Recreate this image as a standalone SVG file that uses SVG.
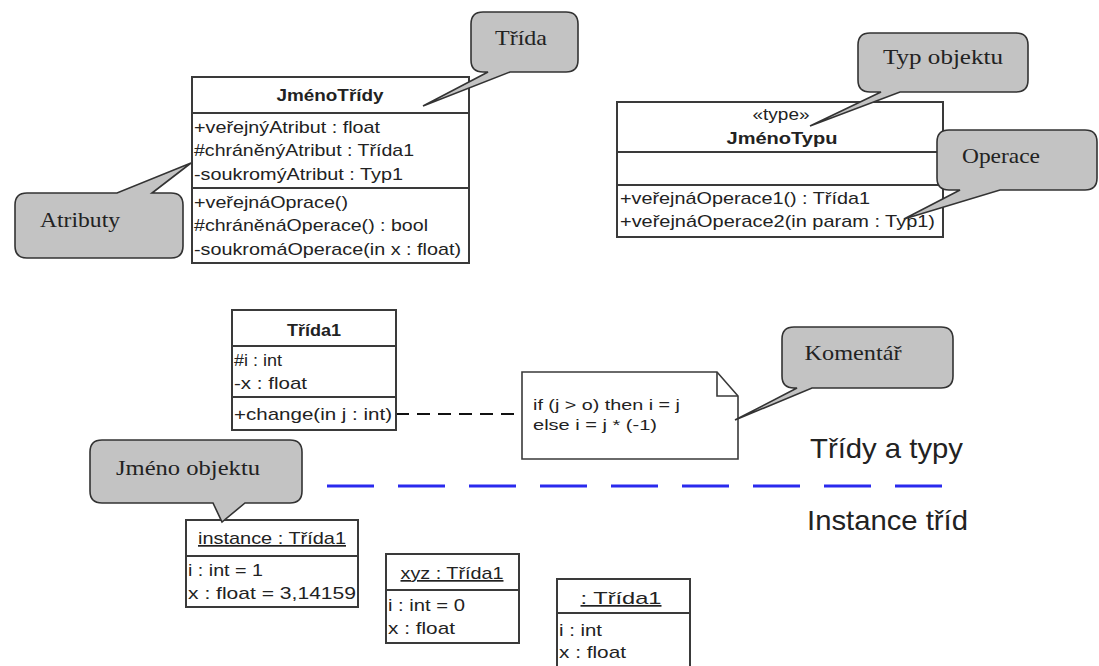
<svg xmlns="http://www.w3.org/2000/svg" width="1099" height="666" viewBox="0 0 1099 666">
<style>
.box{fill:#fff;stroke:#3a3a3a;stroke-width:2}
.div{stroke:#3a3a3a;stroke-width:2}
.t{font-family:"Liberation Sans",Arial,sans-serif;font-size:17px;fill:#222}
.b{font-weight:bold;text-anchor:middle}
.c{text-anchor:middle}
.n{font-family:"Liberation Sans",Arial,sans-serif;font-size:15px;fill:#222}
.big{font-family:"Liberation Sans",Arial,sans-serif;font-size:28px;fill:#222}
.call{fill:#c3c3c3;stroke:#333;stroke-width:1.6}
.ct{font-family:"Liberation Serif","Times New Roman",serif;font-size:21px;fill:#222;text-anchor:middle}
</style>
<rect width="1099" height="666" fill="#fff"/>

<g id="connectors">
<line x1="396" y1="414" x2="522" y2="414" stroke="#111" stroke-width="2" stroke-dasharray="13 8"/>
<line x1="327" y1="486" x2="943" y2="486" stroke="#2a2aee" stroke-width="3" stroke-dasharray="47 24"/>
</g>

<g id="jmenoTridy">
<rect class="box" x="192" y="77" width="277" height="186"/>
<line class="div" x1="192" y1="113" x2="469" y2="113"/>
<line class="div" x1="192" y1="188" x2="469" y2="188"/>
<text class="t b" x="330" y="101" textLength="107" lengthAdjust="spacingAndGlyphs">JménoTřídy</text>
<text class="t" x="194" y="133" textLength="186" lengthAdjust="spacingAndGlyphs">+veřejnýAtribut : float</text>
<text class="t" x="194" y="156" textLength="220" lengthAdjust="spacingAndGlyphs">#chráněnýAtribut : Třída1</text>
<text class="t" x="194" y="180" textLength="209" lengthAdjust="spacingAndGlyphs">-soukromýAtribut : Typ1</text>
<text class="t" x="194" y="208" textLength="154" lengthAdjust="spacingAndGlyphs">+veřejnáOprace()</text>
<text class="t" x="194" y="231" textLength="234" lengthAdjust="spacingAndGlyphs">#chráněnáOperace() : bool</text>
<text class="t" x="194" y="255" textLength="267" lengthAdjust="spacingAndGlyphs">-soukromáOperace(in x : float)</text>
</g>

<g id="jmenoTypu">
<rect class="box" x="617" y="102" width="326" height="135"/>
<line class="div" x1="617" y1="152" x2="943" y2="152"/>
<line class="div" x1="617" y1="185" x2="943" y2="185"/>
<text class="t c" x="781" y="120" font-size="14" textLength="57" lengthAdjust="spacingAndGlyphs">«type»</text>
<text class="t b" x="782" y="144" textLength="111" lengthAdjust="spacingAndGlyphs">JménoTypu</text>
<text class="t" x="620" y="204" textLength="250" lengthAdjust="spacingAndGlyphs">+veřejnáOperace1() : Třída1</text>
<text class="t" x="620" y="227" textLength="315" lengthAdjust="spacingAndGlyphs">+veřejnáOperace2(in param : Typ1)</text>
</g>

<g id="trida1">
<rect class="box" x="232" y="310" width="164" height="120"/>
<line class="div" x1="232" y1="346" x2="396" y2="346"/>
<line class="div" x1="232" y1="397" x2="396" y2="397"/>
<text class="t b" x="314" y="336" textLength="54" lengthAdjust="spacingAndGlyphs">Třída1</text>
<text class="t" x="234" y="366" textLength="48" lengthAdjust="spacingAndGlyphs">#i : int</text>
<text class="t" x="234" y="389" textLength="73" lengthAdjust="spacingAndGlyphs">-x : float</text>
<text class="t" x="234" y="420" textLength="158" lengthAdjust="spacingAndGlyphs">+change(in j : int)</text>
</g>

<g id="note">
<path d="M522,372 H717 L738,396 V459 H522 Z" fill="#fff" stroke="#3a3a3a" stroke-width="1.6"/>
<path d="M717,372 V396 H738" fill="none" stroke="#3a3a3a" stroke-width="1.6"/>
<text class="n" x="533" y="410" textLength="147" lengthAdjust="spacingAndGlyphs">if (j &gt; o) then i = j</text>
<text class="n" x="533" y="430" textLength="124" lengthAdjust="spacingAndGlyphs">else i = j * (-1)</text>
</g>

<g id="instance">
<rect class="box" x="186" y="520" width="172" height="87"/>
<line class="div" x1="186" y1="556" x2="358" y2="556"/>
<text class="t c" x="272" y="544" text-decoration="underline" textLength="148" lengthAdjust="spacingAndGlyphs">instance : Třída1</text>
<text class="t" x="188" y="576" textLength="75" lengthAdjust="spacingAndGlyphs">i : int = 1</text>
<text class="t" x="188" y="599" textLength="168" lengthAdjust="spacingAndGlyphs">x : float = 3,14159</text>
</g>

<g id="xyz">
<rect class="box" x="386" y="554" width="133" height="89"/>
<line class="div" x1="386" y1="590" x2="519" y2="590" stroke-width="3"/>
<text class="t c" x="452" y="579" text-decoration="underline" textLength="103" lengthAdjust="spacingAndGlyphs">xyz : Třída1</text>
<text class="t" x="388" y="611" textLength="77" lengthAdjust="spacingAndGlyphs">i : int = 0</text>
<text class="t" x="388" y="634" textLength="67" lengthAdjust="spacingAndGlyphs">x : float</text>
</g>

<g id="anon">
<rect class="box" x="557" y="579" width="133" height="95"/>
<line class="div" x1="557" y1="613" x2="690" y2="613"/>
<text class="t c" x="621" y="604" text-decoration="underline" textLength="81" lengthAdjust="spacingAndGlyphs"> : Třída1</text>
<text class="t" x="559" y="636" textLength="43" lengthAdjust="spacingAndGlyphs">i : int</text>
<text class="t" x="559" y="658" textLength="67" lengthAdjust="spacingAndGlyphs">x : float</text>
</g>

<g id="labels">
<text class="big" x="810" y="458" textLength="153" lengthAdjust="spacingAndGlyphs">Třídy a typy</text>
<text class="big" x="807" y="530" textLength="161" lengthAdjust="spacingAndGlyphs">Instance tříd</text>
</g>

<g id="callout-trida">
<path class="call" d="M483,12 H566 Q578,12 578,24 V60 Q578,72 566,72 H510 L423,106 L488,72 H483 Q471,72 471,60 V24 Q471,12 483,12 Z"/>
<text class="ct" x="521" y="45" textLength="52" lengthAdjust="spacingAndGlyphs">Třída</text>
</g>

<g id="callout-atributy">
<path class="call" d="M27,193 H117 L191,163 L152,193 H171 Q183,193 183,205 V246 Q183,258 171,258 H27 Q15,258 15,246 V205 Q15,193 27,193 Z"/>
<text class="ct" x="80" y="227" textLength="80" lengthAdjust="spacingAndGlyphs">Atributy</text>
</g>

<g id="callout-typ">
<path class="call" d="M870,33 H1016 Q1028,33 1028,45 V80 Q1028,92 1016,92 H900 L810,126 L881,92 H870 Q858,92 858,80 V45 Q858,33 870,33 Z"/>
<text class="ct" x="943" y="64" textLength="120" lengthAdjust="spacingAndGlyphs">Typ objektu</text>
</g>

<g id="callout-operace">
<path class="call" d="M949,130 H1085 Q1097,130 1097,142 V178 Q1097,190 1085,190 H1000 L904,219 L960,190 H949 Q937,190 937,178 V142 Q937,130 949,130 Z"/>
<text class="ct" x="1001" y="163" textLength="78" lengthAdjust="spacingAndGlyphs">Operace</text>
</g>

<g id="callout-komentar">
<path class="call" d="M794,327 H941 Q953,327 953,339 V376 Q953,388 941,388 H812 L735,420 L797,388 H794 Q782,388 782,376 V339 Q782,327 794,327 Z"/>
<text class="ct" x="853" y="360" textLength="97" lengthAdjust="spacingAndGlyphs">Komentář</text>
</g>

<g id="callout-jmeno">
<path class="call" d="M102,440 H290 Q302,440 302,452 V491 Q302,503 290,503 H245 L222,522 L213,503 H102 Q90,503 90,491 V452 Q90,440 102,440 Z"/>
<text class="ct" x="188" y="475" textLength="144" lengthAdjust="spacingAndGlyphs">Jméno objektu</text>
</g>
</svg>
